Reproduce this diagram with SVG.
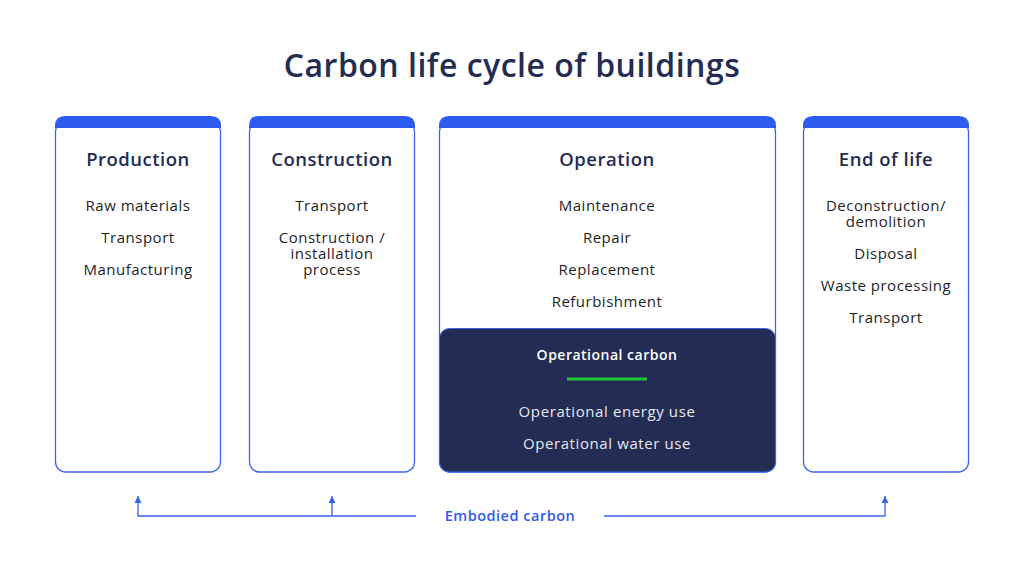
<svg xmlns="http://www.w3.org/2000/svg" width="1024" height="578" viewBox="0 0 1024 578">
<style>
.title{font-family:"Open Sans","Liberation Sans",sans-serif;font-size:32px;font-weight:600;fill:#232c52;text-anchor:middle;letter-spacing:0.5px}
.head{font-family:"Open Sans","Liberation Sans",sans-serif;font-size:18.5px;font-weight:600;fill:#232c52;text-anchor:middle;letter-spacing:0.5px}
.item{font-family:"Open Sans","Liberation Sans",sans-serif;font-size:15px;fill:#1e1e28;text-anchor:middle;letter-spacing:0.5px}
.box{fill:#ffffff;stroke:#3a63ee;stroke-width:1.3}
.band{fill:#2e5bef}
.dhead{font-family:"Open Sans","Liberation Sans",sans-serif;font-size:14px;font-weight:600;fill:#ffffff;text-anchor:middle;letter-spacing:0.5px}
.ditem{font-family:"Open Sans","Liberation Sans",sans-serif;font-size:15px;fill:#e6e8f0;text-anchor:middle;letter-spacing:0.6px}
.conn{fill:none;stroke:#3a63ee;stroke-width:1.3}
.elabel{font-family:"Open Sans","Liberation Sans",sans-serif;font-size:14.5px;font-weight:600;fill:#2f5bea;text-anchor:middle;letter-spacing:0.5px}
</style>
<defs>
<marker id="arr" viewBox="0 0 10 10" refX="10" refY="5" markerWidth="8" markerHeight="7" orient="auto" markerUnits="userSpaceOnUse">
<path d="M0,0 L10,5 L0,10 Z" fill="#3a63ee"/>
</marker>
</defs>
<rect width="1024" height="578" fill="#ffffff"/>
<text class="title" x="512" y="77">Carbon life cycle of buildings</text>

<g id="production">
<rect class="box" x="55.5" y="122" width="165" height="350" rx="10"/>
<path class="band" d="M55,128 V126 Q55,116 65,116 H211 Q221,116 221,126 V128 Z"/>
<text class="head" x="138" y="166">Production</text>
<text class="item" x="138" y="211">Raw materials</text>
<text class="item" x="138" y="243">Transport</text>
<text class="item" x="138" y="275">Manufacturing</text>
</g>

<g id="construction">
<rect class="box" x="249.5" y="122" width="165" height="350" rx="10"/>
<path class="band" d="M249,128 V126 Q249,116 259,116 H405 Q415,116 415,126 V128 Z"/>
<text class="head" x="332" y="166">Construction</text>
<text class="item" x="332" y="211">Transport</text>
<text class="item" x="332" y="243">Construction /</text>
<text class="item" x="332" y="259">installation</text>
<text class="item" x="332" y="275">process</text>
</g>

<g id="operation">
<rect class="box" x="439.5" y="122" width="336" height="350" rx="10"/>
<path class="band" d="M439,128 V126 Q439,116 449,116 H766 Q776,116 776,126 V128 Z"/>
<text class="head" x="607" y="166">Operation</text>
<text class="item" x="607" y="211">Maintenance</text>
<text class="item" x="607" y="243">Repair</text>
<text class="item" x="607" y="275">Replacement</text>
<text class="item" x="607" y="307">Refurbishment</text>
</g>

<g id="operational-carbon">
<rect x="439.5" y="328.5" width="336" height="143.5" rx="10" fill="#232c52" stroke="#3a63ee" stroke-width="1"/>
<text class="dhead" x="607" y="360">Operational carbon</text>
<line x1="567" y1="379" x2="647" y2="379" stroke="#22c43a" stroke-width="3"/>
<text class="ditem" x="607" y="417">Operational energy use</text>
<text class="ditem" x="607" y="449">Operational water use</text>
</g>

<g id="end-of-life">
<rect class="box" x="803.5" y="122" width="165" height="350" rx="10"/>
<path class="band" d="M803,128 V126 Q803,116 813,116 H959 Q969,116 969,126 V128 Z"/>
<text class="head" x="886" y="166">End of life</text>
<text class="item" x="886" y="211">Deconstruction/</text>
<text class="item" x="886" y="227">demolition</text>
<text class="item" x="886" y="259">Disposal</text>
<text class="item" x="886" y="291">Waste processing</text>
<text class="item" x="886" y="323">Transport</text>
</g>

<g id="connectors">
<path class="conn" d="M416,516 H138 V496" marker-end="url(#arr)"/>
<path class="conn" d="M332,516 V496" marker-end="url(#arr)"/>
<path class="conn" d="M604,516 H885 V496" marker-end="url(#arr)"/>
</g>
<text class="elabel" x="510" y="521">Embodied carbon</text>
</svg>
